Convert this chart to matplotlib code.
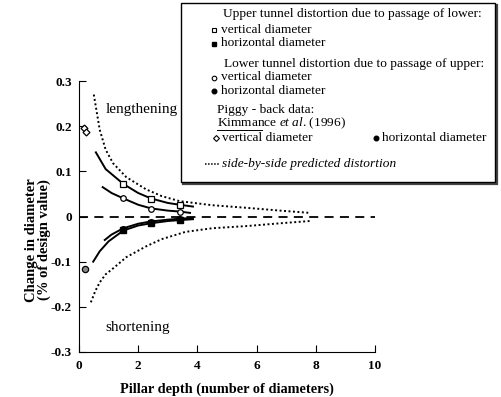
import matplotlib.pyplot as plt
from matplotlib.lines import Line2D
from matplotlib.patches import Rectangle

plt.rcParams["font.family"] = ["Liberation Serif", "DejaVu Serif"]
plt.rcParams["mathtext.fontset"] = "custom"
plt.rcParams["mathtext.rm"] = "Liberation Serif"
plt.rcParams["mathtext.it"] = "Liberation Serif:italic"

# measured points (pillar depth in diameters, change in % of design value)
meas_x = [1.5, 2.43, 3.4]
upper_vert = [0.072, 0.039, 0.026]
upper_horiz = [-0.029, -0.014, -0.008]
lower_vert = [0.040, 0.017, 0.011]
lower_horiz = [-0.027, -0.012, -0.006]

# fitted trend lines through the data
fit_uv_x = [0.57, 0.9, 1.5, 2.0, 2.43, 3.0, 3.4, 3.85]
fit_uv_y = [0.142, 0.105, 0.072, 0.052, 0.040, 0.030, 0.026, 0.022]
fit_lv_x = [0.8, 1.1, 1.5, 2.0, 2.43, 3.0, 3.4, 3.75]
fit_lv_y = [0.065, 0.052, 0.040, 0.026, 0.018, 0.013, 0.011, 0.008]
fit_uh_x = [0.48, 0.7, 1.0, 1.5, 2.0, 2.43, 3.0, 3.4, 3.85]
fit_uh_y = [-0.100, -0.077, -0.055, -0.031, -0.020, -0.015, -0.010, -0.008, -0.006]
fit_lh_x = [0.87, 1.1, 1.5, 2.0, 2.43, 3.0, 3.4, 3.85]
fit_lh_y = [-0.052, -0.040, -0.026, -0.016, -0.011, -0.007, -0.005, -0.003]

# piggy-back data, Kimmance et al. (1996)
piggy_vx = [0.18, 0.22]
piggy_vert = [0.196, 0.186]
piggy_hx = [0.2]
piggy_horiz = [-0.117]

# side-by-side predicted distortion
pred_up_x = [0.5, 0.7, 0.9, 1.15, 1.6, 2.27, 2.8, 3.4, 4.5, 5.7, 6.8, 7.8]
pred_up_y = [0.270, 0.192, 0.148, 0.118, 0.087, 0.060, 0.045, 0.034, 0.025, 0.019, 0.013, 0.008]
pred_lo_x = [0.4, 0.55, 0.7, 0.9, 1.15, 1.6, 2.27, 2.8, 3.6, 4.5, 5.7, 6.8, 7.8]
pred_lo_y = [-0.190, -0.165, -0.146, -0.128, -0.115, -0.090, -0.066, -0.050, -0.034, -0.026, -0.021, -0.015, -0.010]

y_ticks = [-0.3, -0.2, -0.1, 0, 0.1, 0.2, 0.3]
y_labels = ["-0.3", "-0.2", "-0.1", "0", "0.1", "0.2", "0.3"]
x_ticks = [0, 2, 4, 6, 8, 10]

fig = plt.figure(figsize=(5.01, 3.97), dpi=100)
ax = fig.add_axes([79 / 501, 1 - 352 / 397, 296 / 501, 271 / 397])

ax.axhline(0, color="black", lw=1.3, ls=(0, (5, 3.5)))

ax.plot(pred_up_x, pred_up_y, color="black", lw=1.4, ls=(0, (1, 1.3)))
ax.plot(pred_lo_x, pred_lo_y, color="black", lw=1.4, ls=(0, (1, 1.3)))

for fx_, fy_ in [(fit_uv_x, fit_uv_y), (fit_lv_x, fit_lv_y),
                 (fit_uh_x, fit_uh_y), (fit_lh_x, fit_lh_y)]:
    ax.plot(fx_, fy_, color="black", lw=1.4)

ax.plot(meas_x, upper_vert, "s", ms=4, mfc="white", mec="black", mew=0.9)
ax.plot(meas_x, lower_vert, "o", ms=4, mfc="white", mec="black", mew=0.9)
ax.plot(meas_x, upper_horiz, "s", ms=4, color="black")
ax.plot(meas_x, lower_horiz, "o", ms=4, color="black")
ax.plot(piggy_vx, piggy_vert, "D", ms=3.5, mfc="white", mec="black", mew=0.9)
ax.plot(piggy_hx, piggy_horiz, "o", ms=4.5, mfc="#888888", mec="black", mew=0.9)

ax.set_xlim(0, 10)
ax.set_ylim(-0.3, 0.3)
ax.set_xticks(x_ticks)
ax.set_yticks(y_ticks)
ax.set_yticklabels(y_labels)
ax.spines["top"].set_visible(False)
ax.spines["right"].set_visible(False)
ax.tick_params(direction="in", length=5, width=0.8, labelsize=9.5, pad=6)
ax.tick_params(axis="y", pad=5)
for lbl in ax.get_xticklabels() + ax.get_yticklabels():
    lbl.set_fontweight("bold")

ax.set_xlabel("Pillar depth (number of diameters)", fontsize=10.3,
              fontweight="bold", labelpad=7)
fig.text(38 / 501, 1 - 240 / 397, "Change in diameter\n(% of design value)",
         rotation=90, ha="center", va="center", fontsize=10.5,
         fontweight="bold", linespacing=1.0)

ax.text(0.9, 0.236, "lengthening", fontsize=11, va="center")
ax.text(0.9, -0.245, "shortening", fontsize=11, va="center")


# legend box drawn in figure pixels
def fx(px):
    return px / 501


def fy(py):
    return 1 - py / 397


fig.patches.append(Rectangle((fx(183), fy(184)), fx(497) - fx(183), fy(5) - fy(184),
                             transform=fig.transFigure, fc="none", ec="#444444",
                             lw=1.6, zorder=1))
fig.patches.append(Rectangle((fx(181), fy(182)), fx(495) - fx(181), fy(3) - fy(182),
                             transform=fig.transFigure, fc="white", ec="black",
                             lw=1.0, zorder=2))

fs = 9.6
rows = {
    "upper": 14, "uv": 30, "uh": 43.5,
    "lower": 64.5, "lv": 77.5, "lh": 90.5,
    "piggy": 110, "kim": 123.5, "pv": 138, "side": 164,
}


def legend_text(px, row, s, **kw):
    fig.text(fx(px), fy(rows[row]), s, fontsize=fs, va="center", zorder=5, **kw)


def legend_mark(px, row, **kw):
    fig.add_artist(Line2D([fx(px)], [fy(rows[row])], ls="none", zorder=5, **kw))


legend_text(223, "upper", "Upper tunnel distortion due to passage of lower:")
legend_text(221, "uv", "vertical diameter")
legend_text(221, "uh", "horizontal diameter")
legend_text(224, "lower", "Lower tunnel distortion due to passage of upper:")
legend_text(221, "lv", "vertical diameter")
legend_text(221, "lh", "horizontal diameter")
legend_text(217, "piggy", "Piggy - back data:")
legend_text(217, "kim", r"Kimmance $\mathit{et\ al}$. (1996)")
legend_text(222, "pv", "vertical diameter")
legend_text(382, "pv", "horizontal diameter")
legend_text(222, "side", "side-by-side predicted distortion", style="italic")

fig.add_artist(Line2D([fx(217), fx(262)], [fy(rows["kim"] + 6)] * 2,
                      color="black", lw=0.7, zorder=5))

legend_mark(214, "uv", marker="s", ms=3.3, mfc="white", mec="black", mew=0.8)
legend_mark(214, "uh", marker="s", ms=3.3, color="black")
legend_mark(214, "lv", marker="o", ms=3.3, mfc="white", mec="black", mew=0.8)
legend_mark(214, "lh", marker="o", ms=3.3, color="black")
legend_mark(216, "pv", marker="D", ms=3, mfc="white", mec="black", mew=0.8)
legend_mark(376, "pv", marker="o", ms=3.3, color="black")
fig.add_artist(Line2D([fx(205), fx(219)], [fy(rows["side"])] * 2, color="black",
                      lw=1.1, ls=(0, (1, 1)), zorder=5))

fig.savefig("out.png", dpi=100)
